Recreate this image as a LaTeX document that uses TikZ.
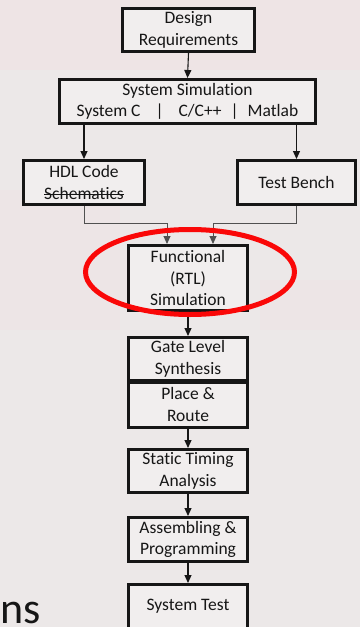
\documentclass[tikz,border=0pt]{standalone}
\usepackage{fontspec}
\setmainfont{Carlito}[Ligatures={NoCommon}]
\usetikzlibrary{arrows.meta}
\definecolor{bg}{RGB}{236,232,232}
\definecolor{bgpink}{RGB}{240,226,228}
\definecolor{boxfill}{RGB}{241,238,238}
\definecolor{ink}{RGB}{22,22,22}
\definecolor{ring}{RGB}{250,8,8}
\definecolor{feedgray}{RGB}{80,80,80}
% word with a line through it
\newcommand\struckword[1]{\setbox0\hbox{#1}\rlap{\usebox0}\rule[0.24em]{\wd0}{0.9pt}}

\begin{document}
\begin{tikzpicture}[x=1pt,y=-1pt,
  stage/.style={draw=ink, line width=3pt, fill=boxfill, text=ink, align=center,
    inner sep=0pt, font=\fontsize{17.5}{21.5}\selectfont},
  flow/.style={draw=ink, line width=1.1pt, -{Triangle[length=8pt,width=7pt]}},
  feed/.style={draw=feedgray, line width=0.9pt, -{Triangle[length=8pt,width=7pt]}}
]
\useasboundingbox (0,0) rectangle (360,627);
\clip (0,0) rectangle (360,627);
% washed-out backdrop
\fill[bg] (0,0) rectangle (360,627);
\fill[bgpink, opacity=0.6] (0,0) rectangle (360,70);
\fill[bgpink, opacity=0.35] (0,190) rectangle (120,330);
\fill[bgpink, opacity=0.35] (260,280) rectangle (360,330);

% flow stages
\node[stage, minimum width=132pt, minimum height=43pt] (req) at (188.5,30) {Design\\Requirements};
\node[stage, minimum width=256pt, minimum height=44pt] (sys) at (187.5,101.5)
  {System Simulation\\System C\hspace{15pt}|\hspace{15pt}C/C++\hspace{9pt}|\hspace{9pt}Matlab};
\node[stage, minimum width=121pt, minimum height=44pt] (hdl) at (84,182.5) {HDL Code\\\struckword{Schematics}};
\node[stage, minimum width=118pt, minimum height=44pt] (tb) at (296.5,182.5) {Test Bench};
\node[stage, minimum width=119pt, minimum height=65pt] (fun) at (188,278) {Functional\\(RTL)\\Simulation};
\node[stage, minimum width=119pt, minimum height=43pt] (gate) at (188,359) {Gate Level\\Synthesis};
\node[stage, minimum width=119pt, minimum height=45pt] (pr) at (188,404.5) {Place \&\\Route};
\node[stage, minimum width=119pt, minimum height=43pt] (sta) at (188,471) {Static Timing\\Analysis};
\node[stage, minimum width=119pt, minimum height=44pt] (asm) at (188,539.5) {Assembling \&\\Programming};
\node[stage, minimum width=119pt, minimum height=44pt] (st) at (188,606.5) {System Test};

% connectors
\draw[flow] (req.south) -- (sys.north);
\draw[flow] (sys.south -| hdl.north) -- (hdl.north);
\draw[flow] (sys.south -| tb.north) -- (tb.north);
\coordinate (jl) at (167,223);
\coordinate (jr) at (213,223);
\draw[feed] (hdl.south) |- (jl) -- (jl |- fun.north);
\draw[feed] (tb.south) |- (jr) -- (jr |- fun.north);
\draw[flow] (fun.south) -- (gate.north);
\draw[flow] (pr.south) -- (sta.north);
\draw[flow] (sta.south) -- (asm.north);
\draw[flow] (asm.south) -- (st.north);

% highlight ring
\draw[ring, line width=5pt] (190,272) ellipse [x radius=104.5pt, y radius=42.5pt];

% tail of a large heading
\node[anchor=base west, inner sep=0pt, text depth=0pt, text height=20pt, text=ink,
  font=\fontsize{44}{44}\selectfont] (heading) at (0,623) {ns};
\end{tikzpicture}
\end{document}
